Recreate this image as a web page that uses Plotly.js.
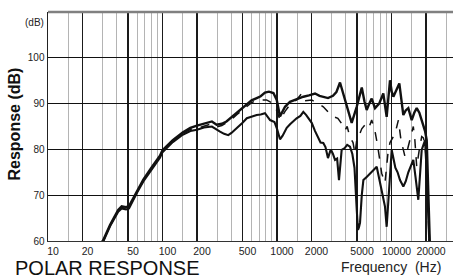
<!DOCTYPE html>
<html>
<head>
<meta charset="utf-8">
<script src="https://cdn.plot.ly/plotly-3.0.1.min.js"></script>
<style>html,body{margin:0;padding:0;background:#fff;}#chart{width:453px;height:275px;}</style>
</head>
<body>
<div id="chart"></div>
<script>
// Frequency (Hz) and response (dB)
const freqA = [29, 30.4, 34.8, 41, 44, 48, 51, 54, 60, 68, 80, 95, 100, 116, 123, 150, 175, 200, 230, 270, 297, 330, 362, 400, 445, 500, 545, 600, 665, 720, 785, 850, 930, 995, 1062, 1175, 1298, 1435, 1550, 1700, 1900, 2148, 2350, 2537, 2786, 3081, 3300, 3550, 3800, 4061, 4300, 4490, 4966, 5200, 5500, 5800, 6071, 6400, 6713, 7175, 7800, 8478, 9070, 9700, 10040, 10380, 11000, 11700, 12680, 13300, 14020, 15010, 15800, 16600, 17500, 18970, 19630, 20300, 21000, 21700];
const onAxis = [59.5, 60.2, 63.5, 66.8, 67.6, 67.4, 67.6, 68.8, 71, 73.4, 76, 78.6, 79.8, 81.3, 82, 83.7, 84.7, 85.2, 85.6, 86.1, 85.4, 85.6, 86.1, 87, 88, 89.2, 90, 90.7, 91.2, 91.6, 92.4, 92.6, 92.3, 90.8, 87.2, 89.3, 90.4, 90.8, 91.2, 91.5, 91.8, 92.2, 91.7, 91.5, 91.2, 91.7, 92.5, 94.6, 92, 90, 87.5, 85.8, 89.3, 91.5, 93.5, 90.5, 88.6, 90, 91.1, 89, 90, 92.2, 87.1, 95.1, 92.6, 91.5, 93, 94.4, 87.5, 88.5, 89, 86.4, 88, 89, 88, 85, 84, 82, 70, 58];

const freqB = [29, 30.4, 34.8, 41, 44, 48, 51, 54, 60, 68, 80, 95, 100, 116, 123, 150, 175, 200, 230, 270, 297, 330, 362, 400, 445, 500, 545, 600, 665, 720, 810, 870, 930, 995, 1062, 1175, 1298, 1480, 1642, 1758, 2010, 2282, 2537, 2786, 3081, 3400, 3700, 3923, 4100, 4340, 4612, 4800, 4966, 5300, 5496, 6071, 6400, 6713, 7175, 7600, 8206, 8770, 9300, 9700, 10380, 11000, 11480, 12100, 13120, 13800, 14510, 15500, 16000, 16600, 17500, 18350, 19000, 19630, 20300, 21000, 21500];
const offAxis30 = [59.3, 60, 63.3, 66.6, 67.3, 67.1, 67.3, 68.6, 70.8, 73.2, 75.8, 78.4, 79.6, 81.1, 81.8, 83.5, 84.4, 84.6, 85, 85.6, 84.9, 85.2, 85.8, 86.5, 87.6, 88.6, 89.5, 90.2, 90.7, 90.8, 90.8, 90.4, 89.8, 88.5, 86.4, 88.3, 89.8, 90.8, 92.2, 90.6, 90.8, 90, 89.3, 88.2, 87.2, 86.8, 85.5, 84.2, 85, 82.6, 81.5, 79, 82, 83.5, 84.5, 85.8, 85, 86.4, 84, 80.5, 74.8, 72.7, 79, 81.5, 82.8, 84.5, 86.4, 82, 78.4, 80, 82, 85, 82, 76.2, 80, 82.8, 82.5, 81, 76, 62, 57];

const freqC = [29, 30.4, 34.8, 41, 44, 48, 51, 54, 60, 68, 80, 95, 100, 116, 123, 150, 175, 200, 230, 270, 297, 318, 345, 375, 400, 445, 500, 545, 600, 665, 720, 785, 870, 950, 1000, 1040, 1062, 1120, 1216, 1300, 1483, 1600, 1698, 1800, 2010, 2150, 2282, 2400, 2537, 2650, 2786, 2950, 3081, 3210, 3350, 3477, 3670, 3900, 4100, 4340, 4550, 4750, 4966, 5096, 5200, 5310, 5500, 5680, 6071, 6490, 6900, 7425, 7900, 8300, 8770, 9070, 9350, 9700, 10040, 10400, 10800, 11300, 11860, 12680, 13300, 14020, 14800, 15500, 16200, 17140, 17800, 18350, 19000, 19630, 20000, 20600, 21270, 21600];
const offAxis60 = [59.2, 59.9, 63.2, 66.4, 67.1, 66.9, 67.1, 68.4, 70.6, 73, 75.6, 78.2, 79.4, 80.9, 81.6, 83.2, 84, 84.3, 84.8, 85, 84.3, 83.9, 83.4, 83.1, 83.6, 84.6, 85.8, 86.8, 87.2, 87.5, 87.6, 87.9, 86.4, 86, 84.5, 82.8, 82.2, 83, 84.7, 85.5, 86.8, 87.3, 88.2, 87.5, 85.8, 84, 82.5, 81.5, 81.4, 80.5, 78.1, 80, 79, 77.7, 78, 73.3, 79.9, 80.3, 81, 80.6, 79, 76, 67, 62.4, 63, 64, 70, 73.3, 74, 74.8, 75.5, 76.2, 73, 70, 67.5, 63.1, 68, 75, 79.9, 78, 76, 75, 73.3, 71.9, 73, 75, 76.5, 77.7, 74, 69, 75, 79.9, 81, 82, 78, 70, 60, 57];

const majorTicks = [10, 20, 50, 100, 200, 500, 1000, 2000, 5000, 10000, 20000];
const majorLabels = ['10', '20', '50', '100', '200', '500', '1000', '2000', '5000', '10000', '20000'];
const minorTicks = [15, 30, 40, 60, 70, 80, 90, 150, 300, 400, 600, 700, 800, 900, 1500, 3000, 4000, 6000, 7000, 8000, 9000, 15000, 30000];
const dbTicks = [60, 70, 80, 90, 100];

const FONT = 'Liberation Sans, Arial, Helvetica, sans-serif';

const traces = [
  {x: freqA, y: onAxis, mode: 'lines', line: {color: '#111', width: 2.4}, name: 'on axis'},
  {x: freqB, y: offAxis30, mode: 'lines', line: {color: '#111', width: 1.5, dash: 'dash'}, name: '30°'},
  {x: freqC, y: offAxis60, mode: 'lines', line: {color: '#111', width: 2.1}, name: '60°'}
];

const layout = {
  width: 453, height: 275,
  margin: {l: 48, r: 0, t: 12, b: 34, pad: 0},
  paper_bgcolor: '#fff', plot_bgcolor: '#fff',
  showlegend: false,
  font: {family: FONT, color: '#222'},
  xaxis: {
    type: 'log', range: [1, 4.537],
    tickmode: 'array', tickvals: majorTicks, ticktext: majorLabels,
    ticks: '', tickfont: {size: 10.5, color: '#222'}, ticklabelshift: 5,
    showgrid: true, gridcolor: '#1a1a1a', gridwidth: 1.2,
    minor: {tickmode: 'array', tickvals: minorTicks, showgrid: true, gridcolor: '#b4b4b4', gridwidth: 1, ticks: ''},
    showline: true, linecolor: '#333', linewidth: 1,
    zeroline: false, fixedrange: true
  },
  yaxis: {
    range: [60, 110],
    tickmode: 'array', tickvals: dbTicks,
    ticks: '', tickfont: {size: 10, color: '#222'},
    showgrid: true, gridcolor: '#111', gridwidth: 1.3,
    showline: true, linecolor: '#222', linewidth: 1.5,
    zeroline: false, fixedrange: true
  },
  shapes: [
    {type: 'line', xref: 'paper', yref: 'paper', x0: 0, x1: 1, y0: 1, y1: 1, line: {color: '#808080', width: 2.5}}
  ],
  annotations: [
    {text: '(dB)', xref: 'paper', yref: 'paper', x: -0.006, y: 0.956, xanchor: 'right', yanchor: 'middle', showarrow: false, font: {size: 10, color: '#222', family: FONT}},
    {text: '<b>Response (dB)</b>', xref: 'paper', yref: 'paper', x: -0.0815, y: 0.513, xanchor: 'center', yanchor: 'middle', textangle: -90, showarrow: false, font: {size: 16, color: '#111', family: FONT}},
    {text: 'POLAR RESPONSE', xref: 'paper', yref: 'paper', x: -0.0864, y: -0.06, xanchor: 'left', yanchor: 'top', showarrow: false, font: {size: 20, color: '#111', family: FONT}},
    {text: 'Frequency  (Hz)', xref: 'paper', yref: 'paper', x: 0.975, y: -0.07, xanchor: 'right', yanchor: 'top', showarrow: false, font: {size: 14, color: '#222', family: FONT}}
  ]
};

Plotly.newPlot('chart', traces, layout, {displayModeBar: false, staticPlot: true});
</script>
</body>
</html>
